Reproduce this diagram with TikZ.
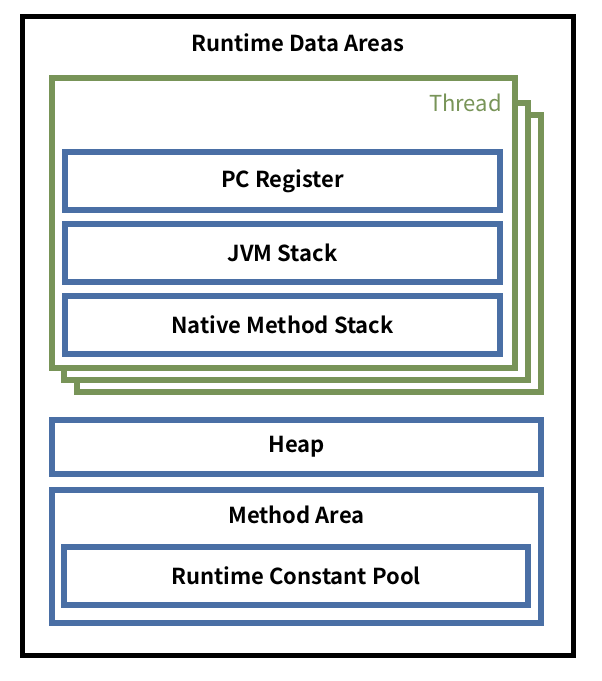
\documentclass[tikz,border=0pt]{standalone}
\usepackage{fontspec}
\setmainfont{Noto Sans CJK KR}[BoldFont={Noto Sans CJK KR Bold}]
\definecolor{grn}{HTML}{789458}
\definecolor{blu}{HTML}{4A6FA5}
\tikzset{
  frame/.style={draw=black, line width=3.75pt, rectangle},
  thr/.style={draw=grn, fill=white, line width=4.5pt, rectangle, minimum width=348pt, minimum height=207.75pt},
  area/.style={draw=blu, fill=white, line width=4.5pt, rectangle, font=\bfseries\fontsize{16.5}{19}\selectfont},
  lbl/.style={font=\bfseries\fontsize{16.5}{19}\selectfont, inner sep=0pt},
}
\begin{document}
\begin{tikzpicture}[x=0.75pt,y=-0.75pt]
\useasboundingbox (0,0) rectangle (601,681);
\node[frame, minimum width=413.25pt, minimum height=478.5pt] (outer) at (297.5,336) {};
\node[lbl] (title) at (297.5,43) {Runtime Data Areas};
% thread stack
\node[thr] (t3) at (309,253.5) {};
\node[thr] (t2) at (296,241.5) {};
\node[thr, minimum width=347.25pt, minimum height=217.5pt] (t1) at (283.5,223) {};
\node[anchor=east, text=grn, inner sep=0pt, font=\fontsize{16.5}{19}\selectfont] (thread) at (502,103) {Thread};
\node[area, minimum width=326.25pt, minimum height=43.5pt] (pc) at (282.5,181) {PC Register};
\node[area, minimum width=326.25pt, minimum height=43.5pt] (jvm) at (282.5,252.5) {JVM Stack};
\node[area, minimum width=326.25pt, minimum height=43.5pt] (nms) at (282.5,324.5) {Native Method Stack};
% shared areas
\node[area, minimum width=366.75pt, minimum height=40.5pt] (heap) at (296.5,447) {Heap};
\node[area, minimum width=366.75pt, minimum height=99.75pt] (ma) at (296.5,556.5) {};
\node[lbl] (malbl) at (296.5,515) {Method Area};
\node[area, minimum width=348pt, minimum height=43.5pt] (rcp) at (296,576) {Runtime Constant Pool};
\end{tikzpicture}
\end{document}
